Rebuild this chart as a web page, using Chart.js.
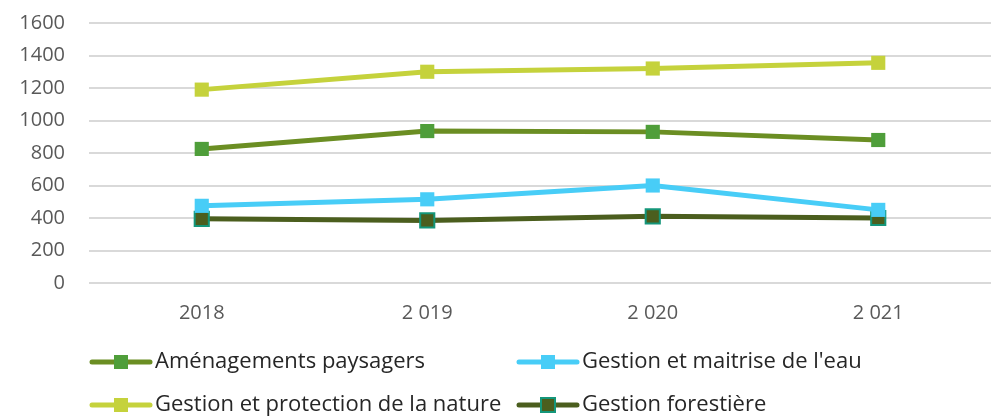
<!DOCTYPE html>
<html>
<head>
<meta charset="utf-8">
<script src="https://cdn.jsdelivr.net/npm/chart.js@4/dist/chart.umd.min.js"></script>
<style>
  html, body { margin: 0; padding: 0; background: #fff; }
  #wrap { width: 991px; height: 419px; }
</style>
</head>
<body>
<div id="wrap"><canvas id="chart" width="991" height="419"></canvas></div>
<script>
// data
const annees = ["2018", "2 019", "2 020", "2 021"];
const amenagements = [825, 935, 930, 880];
const gestionEau = [475, 515, 600, 450];
const protectionNature = [1190, 1300, 1320, 1355];
const forestiere = [395, 385, 410, 400];
const yTicks = [0, 200, 400, 600, 800, 1000, 1200, 1400, 1600];

const FONT = "'Open Sans', sans-serif";

function serie(label, data, line, fill, border) {
  return {
    label: label,
    data: data,
    borderColor: line,
    backgroundColor: fill,
    borderWidth: 5,
    pointStyle: "rect",
    pointRadius: 10,
    pointHoverRadius: 10,
    pointBackgroundColor: fill,
    pointBorderColor: border || fill,
    pointBorderWidth: border ? 2 : 0,
    tension: 0
  };
}

// legende en deux colonnes, dessinee sous le graphique
const legendeColonnes = {
  id: "legendeColonnes",
  afterDraw(chart) {
    const ctx = chart.ctx;
    const area = chart.chartArea;
    const sets = chart.data.datasets;
    ctx.save();
    ctx.font = "22px " + FONT;
    ctx.textBaseline = "middle";
    sets.forEach((ds, i) => {
      const col = i % 2, row = Math.floor(i / 2);
      const x = area.left + 1 + col * 427;
      const y = area.bottom + 79 + row * 43;
      ctx.strokeStyle = ds.borderColor;
      ctx.lineWidth = 5;
      ctx.lineCap = "round";
      ctx.beginPath();
      ctx.moveTo(x + 2, y);
      ctx.lineTo(x + 60, y);
      ctx.stroke();
      const s = 14;
      ctx.fillStyle = ds.pointBackgroundColor;
      ctx.fillRect(x + 31 - s / 2, y - s / 2, s, s);
      if (ds.pointBorderWidth) {
        ctx.strokeStyle = ds.pointBorderColor;
        ctx.lineWidth = 2;
        ctx.strokeRect(x + 31 - s / 2, y - s / 2, s, s);
      }
      ctx.fillStyle = "#262626";
      ctx.fillText(ds.label, x + 65, y);
    });
    ctx.restore();
  }
};

new Chart(document.getElementById("chart"), {
  type: "line",
  data: {
    labels: annees,
    datasets: [
      serie("Aménagements paysagers", amenagements, "#6b8e23", "#4f9e3a"),
      serie("Gestion et maitrise de l'eau", gestionEau, "#48cdf7", "#48cdf7"),
      serie("Gestion et protection de la nature", protectionNature, "#c5d23c", "#c5d23c"),
      serie("Gestion forestière", forestiere, "#4b5e1e", "#4b5e1e", "#14967a")
    ]
  },
  options: {
    responsive: false,
    animation: false,
    layout: { autoPadding: false, padding: { left: 20, right: 0, top: 23, bottom: 76 } },
    plugins: {
      legend: { display: false },
      tooltip: { enabled: false }
    },
    scales: {
      x: {
        offset: true,
        grid: { display: false, drawTicks: false },
        border: { display: false },
        ticks: { color: "#595959", font: { family: FONT, size: 20 }, padding: 18 }
      },
      y: {
        min: 0,
        max: 1600,
        afterBuildTicks(axis) { axis.ticks = yTicks.map(v => ({ value: v })); },
        afterFit(axis) {
          axis.width = 69;
          axis.paddingTop = 0;
        },
        grid: { color: "#d9d9d9", lineWidth: 2, drawTicks: false },
        border: { display: false },
        ticks: {
          color: "#595959",
          font: { family: FONT, size: 20 },
          padding: 24,
          callback: v => String(v)
        }
      }
    }
  },
  plugins: [legendeColonnes]
});
</script>
</body>
</html>
